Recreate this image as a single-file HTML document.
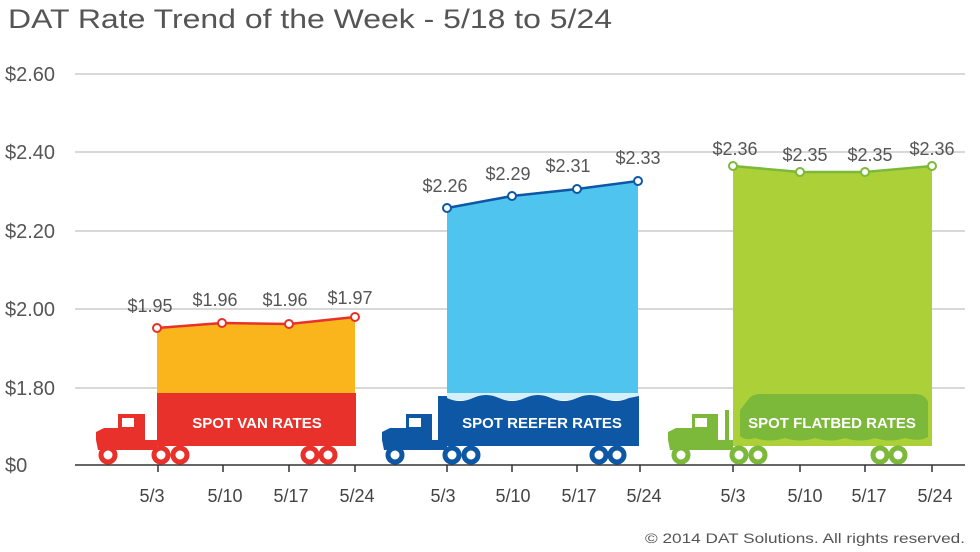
<!DOCTYPE html>
<html><head><meta charset="utf-8"><style>
html,body{margin:0;padding:0;background:#fff;}
svg{display:block;font-family:"Liberation Sans",sans-serif;}
</style></head><body>
<svg width="980" height="552" viewBox="0 0 980 552">
<text x="8" y="28" font-size="27" fill="#555" textLength="604" lengthAdjust="spacingAndGlyphs">DAT Rate Trend of the Week - 5/18 to 5/24</text>
<g stroke="#ccc" stroke-width="1.5">
<line x1="75" y1="74" x2="965" y2="74"/><line x1="75" y1="152" x2="965" y2="152"/>
<line x1="75" y1="231" x2="965" y2="231"/><line x1="75" y1="309" x2="965" y2="309"/>
<line x1="75" y1="388" x2="965" y2="388"/>
</g>
<g font-size="20" fill="#555">
<text x="5" y="81">$2.60</text><text x="5" y="159">$2.40</text><text x="5" y="238">$2.20</text>
<text x="5" y="316">$2.00</text><text x="5" y="395">$1.80</text><text x="5" y="472">$0</text>
</g>
<line x1="75" y1="465" x2="965" y2="465" stroke="#333" stroke-width="1.5"/>
<g stroke="#333" stroke-width="1.5">
<line x1="158" y1="465" x2="158" y2="472"/><line x1="223" y1="465" x2="223" y2="472"/><line x1="289" y1="465" x2="289" y2="472"/><line x1="355" y1="465" x2="355" y2="472"/>
<line x1="447" y1="465" x2="447" y2="472"/><line x1="512" y1="465" x2="512" y2="472"/><line x1="577" y1="465" x2="577" y2="472"/><line x1="640" y1="465" x2="640" y2="472"/>
<line x1="733" y1="465" x2="733" y2="472"/><line x1="800" y1="465" x2="800" y2="472"/><line x1="865" y1="465" x2="865" y2="472"/><line x1="932" y1="465" x2="932" y2="472"/>
</g>
<g font-size="18" fill="#444" text-anchor="middle">
<text x="152" y="502">5/3</text><text x="225" y="502">5/10</text><text x="291" y="502">5/17</text><text x="357" y="502">5/24</text>
<text x="443" y="502">5/3</text><text x="513" y="502">5/10</text><text x="579" y="502">5/17</text><text x="644" y="502">5/24</text>
<text x="733" y="502">5/3</text><text x="805" y="502">5/10</text><text x="869" y="502">5/17</text><text x="935" y="502">5/24</text>
</g>
<text x="645" y="543" font-size="14" fill="#555" textLength="320" lengthAdjust="spacingAndGlyphs">© 2014 DAT Solutions. All rights reserved.</text>

<!-- VAN -->
<polygon points="157,328 222,323 289,324 355,317 355,393 157,393" fill="#f9b51b"/>
<rect x="157" y="393" width="199" height="53" fill="#e8312a"/>
<polyline points="157,328 222,323 289,324 355,317" fill="none" stroke="#e8312a" stroke-width="2.5"/>
<g fill="#fff" stroke="#e8312a" stroke-width="2"><circle cx="157" cy="328" r="4"/><circle cx="222" cy="323" r="4"/><circle cx="289" cy="324" r="4"/><circle cx="355" cy="317" r="4"/></g>
<text x="257" y="428" font-size="15" font-weight="bold" fill="#fff" text-anchor="middle">SPOT VAN RATES</text>
<path d="M96,432 L104,428 L118,428 L118,414 L145,414 L145,440 L157,440 L157,450 L98,450 L96,440Z" fill="#e8312a"/>
<rect x="122" y="418" width="12" height="9" fill="#fff"/>
<g fill="#fff" stroke="#e8312a" stroke-width="5"><circle cx="108" cy="455" r="7"/><circle cx="161" cy="455" r="7"/><circle cx="180" cy="455" r="7"/><circle cx="310" cy="455" r="7"/><circle cx="328" cy="455" r="7"/></g>
<g font-size="18" fill="#555" text-anchor="middle"><text x="150" y="312">$1.95</text><text x="215" y="306">$1.96</text><text x="285" y="306">$1.96</text><text x="350" y="304">$1.97</text></g>

<!-- REEFER -->
<polygon points="447,208 512,196 577,189 638,181 638,398 447,398" fill="#4fc4ef"/>
<rect x="447" y="393" width="192" height="7" fill="#d6f0fb"/>
<path d="M447,398 Q460,404 473,398 T499,398 T525,398 T551,398 T577,398 T603,398 T629,398 L639,396 L639,446 L447,446Z" fill="#0d57a5"/>
<rect x="438" y="396" width="9" height="44" fill="#0d57a5"/>
<polyline points="447,208 512,196 577,189 638,181" fill="none" stroke="#0d57a5" stroke-width="2.5"/>
<g fill="#fff" stroke="#0d57a5" stroke-width="2"><circle cx="447" cy="208" r="4"/><circle cx="512" cy="196" r="4"/><circle cx="577" cy="189" r="4"/><circle cx="638" cy="181" r="4"/></g>
<text x="542" y="428" font-size="15" font-weight="bold" fill="#fff" text-anchor="middle">SPOT REEFER RATES</text>
<path d="M382,432 L390,428 L406,428 L406,414 L432,414 L432,440 L447,440 L447,450 L384,450 L382,440Z" fill="#0d57a5"/>
<rect x="409" y="418" width="12" height="9" fill="#fff"/>
<g fill="#fff" stroke="#0d57a5" stroke-width="5"><circle cx="395" cy="455" r="7"/><circle cx="452" cy="455" r="7"/><circle cx="471" cy="455" r="7"/><circle cx="599" cy="455" r="7"/><circle cx="617" cy="455" r="7"/></g>
<g font-size="18" fill="#555" text-anchor="middle"><text x="445" y="192">$2.26</text><text x="508" y="180">$2.29</text><text x="568" y="172">$2.31</text><text x="638" y="164">$2.33</text></g>

<!-- FLATBED -->
<polygon points="733,166 800,172 865,172 932,166 932,446 733,446" fill="#acd037"/>
<path d="M748,400 Q752,393 765,394 L910,394 Q925,393 928,402 L928,437 Q920,442 905,438 Q890,443 875,438 Q860,443 845,438 Q830,443 815,438 Q800,443 785,438 Q770,443 755,438 Q745,441 740,436 L740,410 Z" fill="#7cb83a"/>
<rect x="725" y="410" width="4" height="36" fill="#7cb83a"/>
<polyline points="733,166 800,172 865,172 932,166" fill="none" stroke="#7cb83a" stroke-width="2.5"/>
<g fill="#fff" stroke="#7cb83a" stroke-width="2"><circle cx="733" cy="166" r="4"/><circle cx="800" cy="172" r="4"/><circle cx="865" cy="172" r="4"/><circle cx="932" cy="166" r="4"/></g>
<text x="832" y="428" font-size="15" font-weight="bold" fill="#fff" text-anchor="middle">SPOT FLATBED RATES</text>
<path d="M668,432 L676,428 L692,428 L692,414 L718,414 L718,440 L733,440 L733,450 L670,450 L668,440Z" fill="#7cb83a"/>
<rect x="695" y="418" width="12" height="9" fill="#fff"/>
<g fill="#fff" stroke="#7cb83a" stroke-width="5"><circle cx="681" cy="455" r="7"/><circle cx="739" cy="455" r="7"/><circle cx="758" cy="455" r="7"/><circle cx="880" cy="455" r="7"/><circle cx="898" cy="455" r="7"/></g>
<g font-size="18" fill="#555" text-anchor="middle"><text x="735" y="155">$2.36</text><text x="805" y="161">$2.35</text><text x="870" y="161">$2.35</text><text x="932" y="155">$2.36</text></g>
</svg>
</body></html>
